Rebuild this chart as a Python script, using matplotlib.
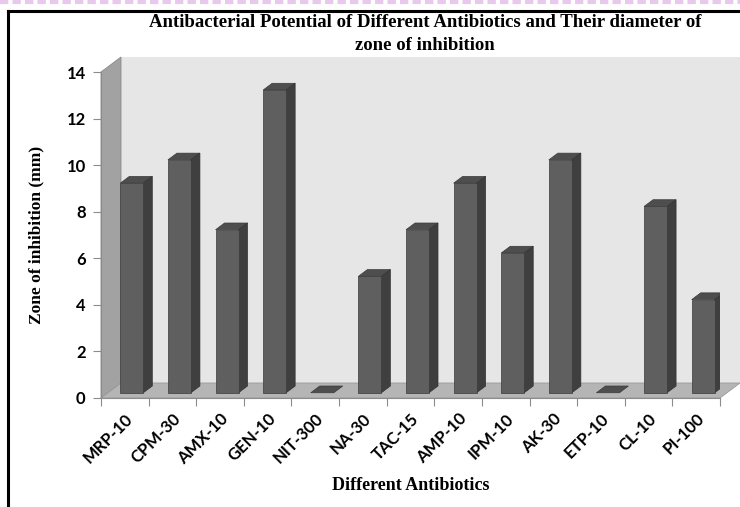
import matplotlib
matplotlib.use('Agg')
import matplotlib.pyplot as plt
from matplotlib.patches import Polygon
from matplotlib.lines import Line2D

antibiotics = ['MRP-10', 'CPM-30', 'AMX-10', 'GEN-10', 'NIT-300', 'NA-30', 'TAC-15',
               'AMP-10', 'IPM-10', 'AK-30', 'ETP-10', 'CL-10', 'PI-100']
zone_mm = [9, 10, 7, 13, 0, 5, 7, 9, 6, 10, 0, 8, 4]
y_ticks = [0, 2, 4, 6, 8, 10, 12, 14]

W, H = 740, 507
fig = plt.figure(figsize=(W / 100, H / 100), dpi=100)
# axes box in pixels: x 101..720, y 72..398
ax = fig.add_axes([101 / W, (H - 398) / H, 619 / W, 326 / H])
n = len(antibiotics)
ymax = 14
ax.set_xlim(0, n)
ax.set_ylim(0, ymax)

# pixel -> data conversions for the fake 3D depth
ux = 619 / n
uy = 326 / ymax
Dx, Dy = 20 / ux, 15 / uy          # depth of the floor
f0, f1 = 0.35, 0.80                # front / back of bars along depth
bw = 23 / ux                       # bar front width

# walls
back = Polygon([(Dx, Dy), (n + Dx, Dy), (n + Dx, ymax + Dy), (Dx, ymax + Dy)],
               closed=True, fc='#e6e6e6', ec='none', clip_on=False, zorder=0)
left = Polygon([(0, 0), (Dx, Dy), (Dx, ymax + Dy), (0, ymax)],
               closed=True, fc='#a2a2a2', ec='#8a8a8a', lw=0.6, clip_on=False, zorder=1)
floor = Polygon([(0, 0), (n, 0), (n + Dx, Dy), (Dx, Dy)],
                closed=True, fc='#b5b5b5', ec='#9a9a9a', lw=0.6, clip_on=False, zorder=1)
for p in (back, left, floor):
    ax.add_patch(p)

for i, v in enumerate(zone_mm):
    x0 = i + 0.5 - bw / 2 + f0 * Dx
    y0 = f0 * Dy
    x1 = x0 + bw
    ddx = (f1 - f0) * Dx
    ddy = (f1 - f0) * Dy
    top = Polygon([(x0, y0 + v), (x1, y0 + v), (x1 + ddx, y0 + v + ddy), (x0 + ddx, y0 + v + ddy)],
                  closed=True, fc='#4e4e4e', ec='#3a3a3a', lw=0.5, zorder=3)
    ax.add_patch(top)
    if v > 0:
        side = Polygon([(x1, y0), (x1 + ddx, y0 + ddy), (x1 + ddx, y0 + v + ddy), (x1, y0 + v)],
                       closed=True, fc='#3f3f3f', ec='#333333', lw=0.5, zorder=3)
        front = Polygon([(x0, y0), (x1, y0), (x1, y0 + v), (x0, y0 + v)],
                        closed=True, fc='#5f5f5f', ec='#3a3a3a', lw=0.5, zorder=4)
        ax.add_patch(side)
        ax.add_patch(front)

for s in ('top', 'right'):
    ax.spines[s].set_visible(False)
for s in ('left', 'bottom'):
    ax.spines[s].set_color('#8c8c8c')
    ax.spines[s].set_zorder(5)

ax.set_yticks(y_ticks)
ax.set_yticklabels([str(t) for t in y_ticks], fontfamily='Lato', fontweight='bold', fontsize=12)
ax.set_xticks(range(n + 1))
ax.set_xticklabels([])
ax.set_xticks([i + 0.5 for i in range(n)], minor=True)
ax.set_xticklabels(antibiotics, minor=True, rotation=45, ha='right', rotation_mode='anchor',
                   fontfamily='Lato', fontweight='bold', fontsize=12)
ax.tick_params(axis='x', which='minor', length=0, pad=9)
ax.tick_params(axis='x', which='major', length=6, color='#8c8c8c')
ax.tick_params(axis='y', length=6, color='#8c8c8c', pad=5)

serif = 'Liberation Serif'
ax.set_ylabel('Zone of inhibition (mm)', fontfamily=serif, fontweight='bold', fontsize=12.5, labelpad=16)
ax.set_xlabel('Different Antibiotics', fontfamily=serif, fontweight='bold', fontsize=13, labelpad=7)
fig.text(425 / W, 1 - 34 / H, 'Antibacterial Potential of Different Antibiotics and Their diameter of\nzone of inhibition',
         ha='center', va='center', fontfamily=serif, fontweight='bold', fontsize=13.5, linespacing=1.45)

# outer frame (left and top edges)
fig.add_artist(Line2D([8 / W, 8 / W], [0, 1 - 11 / H], color='black', lw=2.2, transform=fig.transFigure))
fig.add_artist(Line2D([8 / W, 1], [1 - 11 / H, 1 - 11 / H], color='black', lw=2.2, transform=fig.transFigure))
fig.add_artist(Line2D([0, 1], [1 - 2 / H, 1 - 2 / H], color='#e8c8ec', lw=3, ls=(0, (2, 1)), transform=fig.transFigure))

fig.savefig('out.png', dpi=100)
